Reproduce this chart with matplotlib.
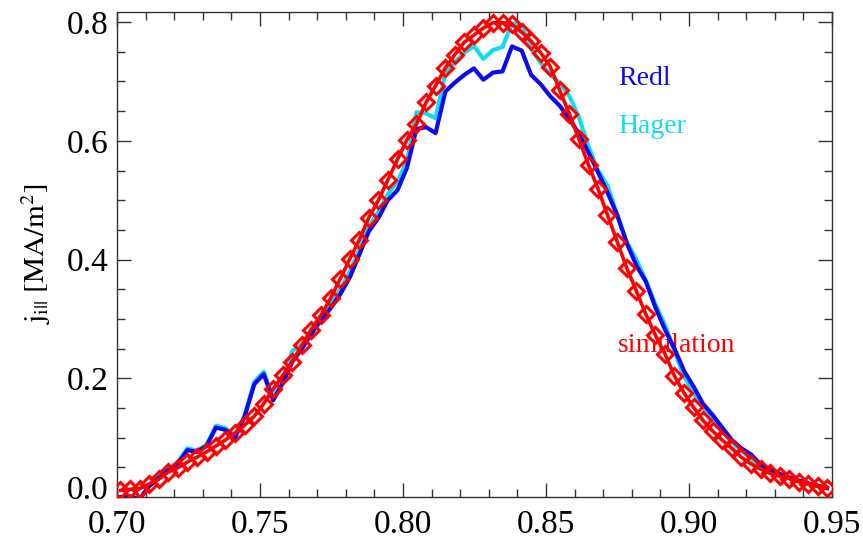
import matplotlib
matplotlib.use("Agg")
import matplotlib.pyplot as plt
from matplotlib.ticker import MultipleLocator, FormatStrFormatter
from matplotlib.transforms import ScaledTranslation

# radial grid (shared by all three curves)
x_grid = [0.7012, 0.7045, 0.7079, 0.7112, 0.7146, 0.7179, 0.7212, 0.7246, 0.7279, 0.7313,
          0.7346, 0.7379, 0.7413, 0.7446, 0.7480, 0.7513, 0.7546, 0.7580, 0.7613, 0.7647,
          0.7680, 0.7713, 0.7747, 0.7780, 0.7814, 0.7847, 0.7880, 0.7914, 0.7947, 0.7981,
          0.8014, 0.8047, 0.8081, 0.8114, 0.8148, 0.8181, 0.8214, 0.8248, 0.8281, 0.8315,
          0.8348, 0.8381, 0.8415, 0.8448, 0.8482, 0.8515, 0.8548, 0.8582, 0.8615, 0.8649,
          0.8682, 0.8715, 0.8749, 0.8782, 0.8816, 0.8849, 0.8882, 0.8916, 0.8949, 0.8983,
          0.9016, 0.9049, 0.9083, 0.9116, 0.9150, 0.9183, 0.9216, 0.9250, 0.9283, 0.9317,
          0.9350, 0.9383, 0.9417, 0.9450, 0.9483]

redl = [0.000, 0.001, -0.004, 0.018, 0.032, 0.045, 0.056, 0.079, 0.076, 0.086,
        0.117, 0.113, 0.100, 0.135, 0.190, 0.207, 0.163, 0.192, 0.228, 0.250,
        0.275, 0.298, 0.318, 0.341, 0.370, 0.408, 0.447, 0.470, 0.500, 0.517,
        0.555, 0.620, 0.623, 0.613, 0.683, 0.698, 0.711, 0.722, 0.703, 0.715,
        0.717, 0.759, 0.752, 0.711, 0.695, 0.675, 0.659, 0.637, 0.612, 0.580,
        0.547, 0.513, 0.475, 0.428, 0.390, 0.363, 0.320, 0.282, 0.250, 0.212,
        0.186, 0.157, 0.138, 0.117, 0.096, 0.082, 0.072, 0.055, 0.046, 0.039,
        0.033, 0.028, 0.023, 0.019, 0.015]

hager = [0.000, 0.002, -0.003, 0.020, 0.034, 0.047, 0.058, 0.082, 0.078, 0.088,
         0.120, 0.116, 0.103, 0.138, 0.194, 0.211, 0.167, 0.198, 0.246, 0.257,
         0.284, 0.305, 0.325, 0.350, 0.380, 0.416, 0.455, 0.481, 0.510, 0.532,
         0.566, 0.648, 0.646, 0.638, 0.714, 0.733, 0.748, 0.760, 0.738, 0.753,
         0.758, 0.798, 0.795, 0.755, 0.731, 0.712, 0.697, 0.675, 0.640, 0.590,
         0.550, 0.525, 0.475, 0.430, 0.400, 0.365, 0.325, 0.290, 0.245, 0.203,
         0.175, 0.152, 0.131, 0.112, 0.092, 0.078, 0.064, 0.053, 0.045, 0.038,
         0.032, 0.027, 0.022, 0.018, 0.015]

simulation = [0.011, 0.013, 0.014, 0.022, 0.030, 0.042, 0.049, 0.059, 0.067, 0.076,
              0.086, 0.096, 0.108, 0.121, 0.136, 0.157, 0.182, 0.205, 0.228, 0.256,
              0.282, 0.306, 0.335, 0.367, 0.401, 0.433, 0.470, 0.500, 0.534, 0.569,
              0.602, 0.628, 0.665, 0.693, 0.723, 0.745, 0.766, 0.778, 0.790, 0.799,
              0.799, 0.796, 0.783, 0.768, 0.748, 0.725, 0.685, 0.645, 0.603, 0.559,
              0.519, 0.475, 0.430, 0.386, 0.347, 0.308, 0.273, 0.241, 0.204, 0.175,
              0.151, 0.129, 0.111, 0.096, 0.082, 0.067, 0.056, 0.047, 0.040, 0.035,
              0.031, 0.026, 0.022, 0.019, 0.016]

x_ticks = [0.70, 0.75, 0.80, 0.85, 0.90, 0.95]
y_ticks = [0.0, 0.2, 0.4, 0.6, 0.8]

plt.rcParams['font.family'] = ['Liberation Serif', 'DejaVu Serif']
plt.rcParams['mathtext.fontset'] = 'stix'

fig = plt.figure(figsize=(8.63, 5.44), dpi=100)
ax = fig.add_axes([117/863, 47/544, (832-117)/863, (497-12)/544])

c_redl = '#0a0af0'
c_hager = '#10dcf0'
c_sim = '#ff0000'

ax.plot(x_grid, hager, color=c_hager, lw=3.0, zorder=2)
ax.plot(x_grid, redl, color=c_redl, lw=3.0, zorder=3)
ax.plot(x_grid, simulation, color=c_sim, lw=2.6, marker='D', ms=8,
        mfc='none', mec=c_sim, mew=2.2, zorder=4)

ax.set_xlim(0.70, 0.95)
ax.set_ylim(0.0, 0.817)
ax.set_xticks(x_ticks)
ax.set_yticks(y_ticks)
ax.xaxis.set_major_formatter(FormatStrFormatter('%.2f'))
ax.yaxis.set_major_formatter(FormatStrFormatter('%.1f'))
ax.xaxis.set_minor_locator(MultipleLocator(0.01))
ax.yaxis.set_minor_locator(MultipleLocator(0.05))
ax.tick_params(which='both', direction='in', top=True, right=True, width=1.0, color='#333333')
ax.tick_params(which='major', length=10)
ax.tick_params(which='minor', length=5.5)
ax.tick_params(axis='x', which='major', labelsize=24, pad=9)
ax.tick_params(axis='y', which='major', labelsize=24, pad=6)
for s in ax.spines.values():
    s.set_linewidth(1.0)
    s.set_color('#333333')

ax.set_ylabel(r'$\mathrm{j_{i||}\ [MA/m^2]}$', fontsize=21, labelpad=10)

fig.canvas.draw()
lab0 = ax.get_yticklabels()[0]
lab0.set_transform(lab0.get_transform() + ScaledTranslation(0, 7/72, fig.dpi_scale_trans))

ax.text(0.8753, 0.694, 'Redl', color=c_redl, fontsize=20, va='baseline', ha='left')
ax.text(0.8753, 0.613, 'Hager', color=c_hager, fontsize=20, va='baseline', ha='left')
ax.text(0.8753, 0.245, 'simulation', color=c_sim, fontsize=20, va='baseline', ha='left', zorder=1)

fig.savefig('out.png', dpi=100)
